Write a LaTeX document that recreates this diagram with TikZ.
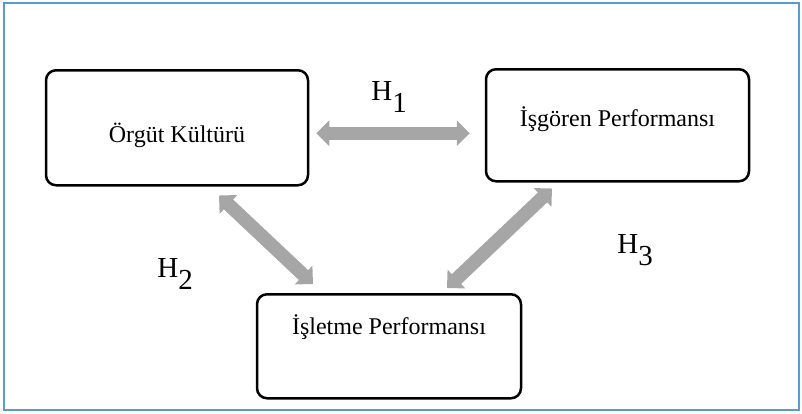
\documentclass[tikz,border=0pt]{standalone}
\usepackage{fontspec}
\setmainfont{Liberation Serif}
\usepackage{tikz}
\usetikzlibrary{arrows.meta,positioning,calc}
\definecolor{frameblue}{RGB}{91,155,213}
\definecolor{arrowgray}{RGB}{166,166,166}
\newcommand{\hyp}[1]{H\raisebox{-0.42em}{#1}}

\begin{document}
\begin{tikzpicture}[x=0.5pt, y=-0.5pt,
    varbox/.style={rectangle, draw=black, line width=1.25pt, rounded corners=5pt, inner sep=0pt, anchor=north, font=\fontsize{12}{14}\selectfont},
    hyparrow/.style={draw=arrowgray, line width=6.75pt, {Triangle[width=12.5pt,length=6.5pt]}-{Triangle[width=12.5pt,length=6.5pt]}},
    hyplabel/.style={anchor=base west, inner sep=0pt, font=\fontsize{14.5}{16}\selectfont}]
    \useasboundingbox (0,0) rectangle (802,413);
    \draw[frameblue, line width=1pt] (4,3) rectangle (799,409.5);

    % variables
    \node[varbox, minimum width=131pt, text height=35.9pt, text depth=21.6pt] (org) at (177,69) {Örgüt Kültürü};
    \node[varbox, minimum width=131.5pt, text height=28.5pt, text depth=27.5pt] (isg) at (617.5,68) {İşgören Performansı};
    \node[varbox, minimum width=132pt, text height=20pt, text depth=32pt] (isl) at (389,293) {İşletme Performansı};

    % hypotheses
    \draw[hyparrow] ([shift={(7,5.5)}]org.east) coordinate (h1a) -- ([xshift=-7.5pt]h1a -| isg.west);
    \draw[hyparrow] ([shift={(42,9)}]org.south) -- ([shift={(-76,-9)}]isl.north);
    \draw[hyparrow] ([shift={(-65.5,6)}]isg.south) -- ([shift={(58,-5)}]isl.north);

    \node[hyplabel] (h1) at (371,100) {\hyp{1}};
    \node[hyplabel] (h2) at (157,277) {\hyp{2}};
    \node[hyplabel] (h3) at (617,253) {\hyp{3}};
\end{tikzpicture}
\end{document}
